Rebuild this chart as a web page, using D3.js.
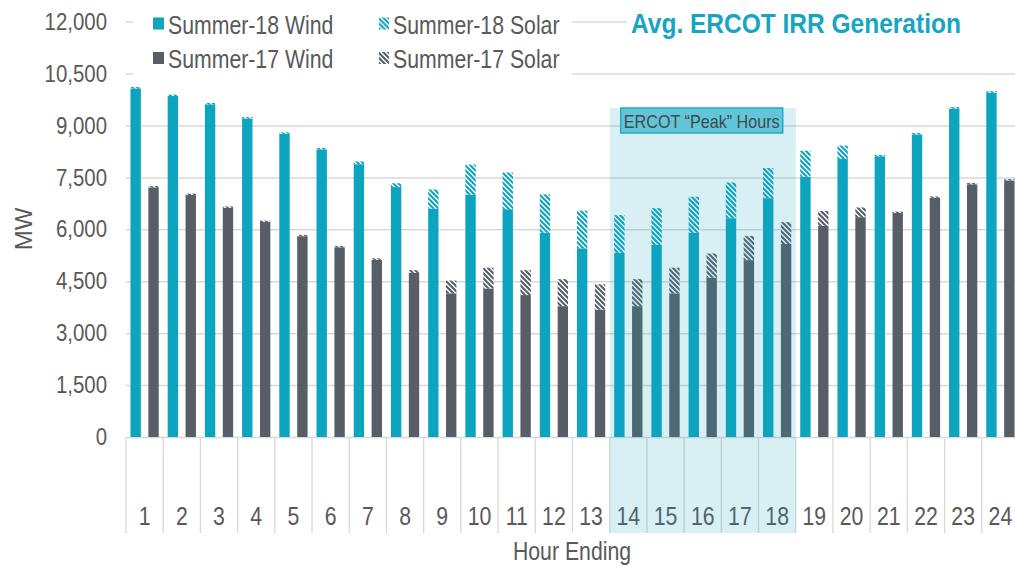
<!DOCTYPE html>
<html>
<head>
<meta charset="utf-8">
<script src="https://cdn.jsdelivr.net/npm/d3@7"></script>
<style>
    body {margin: 0; background: #fff;}
    text {font-family: "Liberation Sans", Arial, sans-serif; fill: #595959;}
</style>
</head>
<body>
<div id="chart"></div>
<script>

//values - avg MW by hour ending
var hours = ['1','2','3','4','5','6','7','8','9','10','11','12','13','14','15','16','17','18','19','20','21','22','23','24'];
var wind18 = [10070, 9850, 9610, 9200, 8760, 8310, 7880, 7220, 6600, 7000, 6580, 5900, 5450, 5320, 5550, 5900, 6320, 6900, 7520, 8030, 8110, 8740, 9490, 9950];
var solar18 = [40, 40, 40, 40, 40, 40, 80, 110, 550, 870, 1060, 1110, 1090, 1090, 1060, 1040, 1030, 870, 750, 390, 40, 40, 40, 40];
var wind17 = [7210, 6990, 6620, 6210, 5800, 5480, 5120, 4740, 4150, 4290, 4100, 3780, 3680, 3780, 4150, 4600, 5110, 5575, 6100, 6350, 6470, 6910, 7300, 7410];
var solar17 = [40, 40, 40, 40, 40, 40, 40, 80, 370, 600, 720, 780, 730, 780, 740, 700, 700, 630, 430, 280, 40, 40, 40, 40];
var yTicks = [0, 1500, 3000, 4500, 6000, 7500, 9000, 10500, 12000];
var peakHours = ['14', '15', '16', '17', '18'];
var legendNames = ['Summer-18 Wind', 'Summer-18 Solar', 'Summer-17 Wind', 'Summer-17 Solar'];
var titleText = 'Avg. ERCOT IRR Generation';
var peakText = 'ERCOT \u201CPeak\u201D Hours';

var teal = '#0DA4BF',
    gray = '#575E66';

var width = 1015,
    height = 568;
var margin = {t: 21.6, b: 437, l: 126, r: 1019}; //plot edges in px (right edge runs past the window)

var plot = d3.select('#chart')
    .append('svg')
    .attr('width', width)
    .attr('height', height);

//the original text is a narrow face, squeeze the glyphs sideways
function condense(sel, k) {
    k = k || 0.85;
    sel.each(function() {
        var len = this.getComputedTextLength();
        d3.select(this).attr('textLength', len * k).attr('lengthAdjust', 'spacingAndGlyphs');
    });
}

//hatch patterns for the solar part
var defs = plot.append('defs');
function hatch(id, color) {
    var p = defs.append('pattern')
        .attr('id', id)
        .attr('patternUnits', 'userSpaceOnUse')
        .attr('width', 5)
        .attr('height', 5);
    p.append('rect').attr('width', 5).attr('height', 5).attr('fill', '#fff');
    p.append('path')
        .attr('d', 'M-1,-1L6,6M-1,4L1,6M4,-1L6,1')
        .attr('stroke', color)
        .attr('stroke-width', 2.1);
}
hatch('hatch18', teal);
hatch('hatch17', gray);

//tables for the stack
var rows18 = hours.map(function(h, i){ return {hour: h, wind: wind18[i], solar: solar18[i]}; });
var rows17 = hours.map(function(h, i){ return {hour: h, wind: wind17[i], solar: solar17[i]}; });
var stack = d3.stack().keys(['wind', 'solar']);
var stack18 = stack(rows18),
    stack17 = stack(rows17);
console.log(stack18);

var scaleX = d3.scaleBand().domain(hours).range([margin.l, margin.r]);
var scaleX2 = d3.scaleBand().domain(['s18', 's17']).range([0, scaleX.bandwidth()]).paddingInner(0.42).paddingOuter(0.25);
var scaleY = d3.scaleLinear().domain([0, 12000]).range([margin.b, margin.t]);

//gridlines + y labels
var yAxis = plot.append('g')
    .attr('class', 'yAxis')
    .attr('transform', 'translate(' + margin.l + ',0)')
    .call(d3.axisLeft(scaleY)
        .tickValues(yTicks)
        .tickFormat(d3.format(','))
        .tickSize(-(margin.r - margin.l))
        .tickPadding(19));
yAxis.select('.domain').remove();
yAxis.selectAll('line').attr('stroke', '#D9D9D9').attr('stroke-width', 1.5);
yAxis.selectAll('text').attr('font-size', 24).attr('font-family', null).call(condense);

//bars
function drawBars(layers, key, fills) {
    var g = plot.append('g').attr('class', 'bars' + key);
    layers.forEach(function(layer, k) {
        g.selectAll('.b' + k)
            .data(layer)
            .enter()
            .append('rect')
            .attr('x', function(d){ return scaleX(d.data.hour) + scaleX2(key); })
            .attr('width', scaleX2.bandwidth())
            .attr('y', function(d){ return scaleY(d[1]); })
            .attr('height', function(d){ return scaleY(d[0]) - scaleY(d[1]); })
            .attr('fill', fills[k]);
    });
}
drawBars(stack18, 's18', [teal, 'url(#hatch18)']);
drawBars(stack17, 's17', [gray, 'url(#hatch17)']);

//category table under the plot
var tableBottom = 533;
var edges = hours.map(function(h){ return scaleX(h); });
edges.push(margin.r);
plot.append('g').selectAll('line')
    .data(edges)
    .enter()
    .append('line')
    .attr('x1', function(d){ return d; })
    .attr('x2', function(d){ return d; })
    .attr('y1', margin.b)
    .attr('y2', tableBottom)
    .attr('stroke', '#D9D9D9')
    .attr('stroke-width', 1.3);

var xAxis = plot.append('g')
    .attr('transform', 'translate(0,' + margin.b + ')')
    .call(d3.axisBottom(scaleX).tickSize(0).tickPadding(70));
xAxis.select('.domain').remove();
xAxis.selectAll('text').attr('font-size', 25).attr('font-family', null).call(condense);

//peak hours shading, sits on top of the bars
var peakX0 = scaleX(peakHours[0]),
    peakX1 = scaleX(peakHours[peakHours.length - 1]) + scaleX.bandwidth();
var peakTop = 108;
plot.append('rect')
    .attr('x', peakX0)
    .attr('y', peakTop)
    .attr('width', peakX1 - peakX0)
    .attr('height', tableBottom - peakTop)
    .attr('fill', '#17A3BE')
    .attr('fill-opacity', 0.17);

var boxW = 162, boxH = 25;
var peakMid = (peakX0 + peakX1) / 2;
plot.append('rect')
    .attr('x', peakMid - boxW / 2 - 1)
    .attr('y', peakTop)
    .attr('width', boxW)
    .attr('height', boxH)
    .attr('fill', '#63C5D8')
    .attr('stroke', '#25A9C2')
    .attr('stroke-width', 1.5);
plot.append('text')
    .attr('x', peakMid - 1)
    .attr('y', peakTop + boxH / 2 + 1)
    .attr('text-anchor', 'middle')
    .attr('dominant-baseline', 'central')
    .attr('font-size', 19)
    .style('fill', '#3E4A52')
    .text(peakText)
    .call(condense);

//axis titles
plot.append('text')
    .attr('transform', 'translate(32,229) rotate(-90)')
    .attr('text-anchor', 'middle')
    .attr('font-size', 24)
    .text('MW');

plot.append('text')
    .attr('x', 572)
    .attr('y', 560)
    .attr('text-anchor', 'middle')
    .attr('font-size', 25)
    .text('Hour Ending')
    .call(condense);

//legend (white box hides the gridlines behind it)
plot.append('rect').attr('x', 133).attr('y', 0).attr('width', 439).attr('height', 80).attr('fill', '#fff');
var legendFills = [teal, 'url(#hatch18)', gray, 'url(#hatch17)'];
var legendCol = [153, 379],
    legendRow = [23.5, 58];
var legend = plot.append('g').attr('class', 'legend')
    .selectAll('g')
    .data(legendNames)
    .enter()
    .append('g')
    .attr('transform', function(d, i){ return 'translate(' + legendCol[i % 2] + ',' + legendRow[Math.floor(i / 2)] + ')'; });
legend.append('rect')
    .attr('x', 0)
    .attr('y', -6)
    .attr('width', function(d, i){ return i % 2 == 0 ? 11 : 10; })
    .attr('height', 12)
    .attr('fill', function(d, i){ return legendFills[i]; });
legend.append('text')
    .attr('x', function(d, i){ return i % 2 == 0 ? 15 : 14; })
    .attr('y', 1)
    .attr('dominant-baseline', 'central')
    .attr('font-size', 25)
    .text(function(d){ return d; })
    .call(condense);

//title
plot.append('rect').attr('x', 627).attr('y', 0).attr('width', width - 627).attr('height', 44).attr('fill', '#fff');
plot.append('text')
    .attr('x', 631)
    .attr('y', 23)
    .attr('dominant-baseline', 'central')
    .attr('font-size', 28)
    .attr('font-weight', 'bold')
    .style('fill', '#17A5C1')
    .text(titleText)
    .call(condense, 0.875);

</script>
</body>
</html>
